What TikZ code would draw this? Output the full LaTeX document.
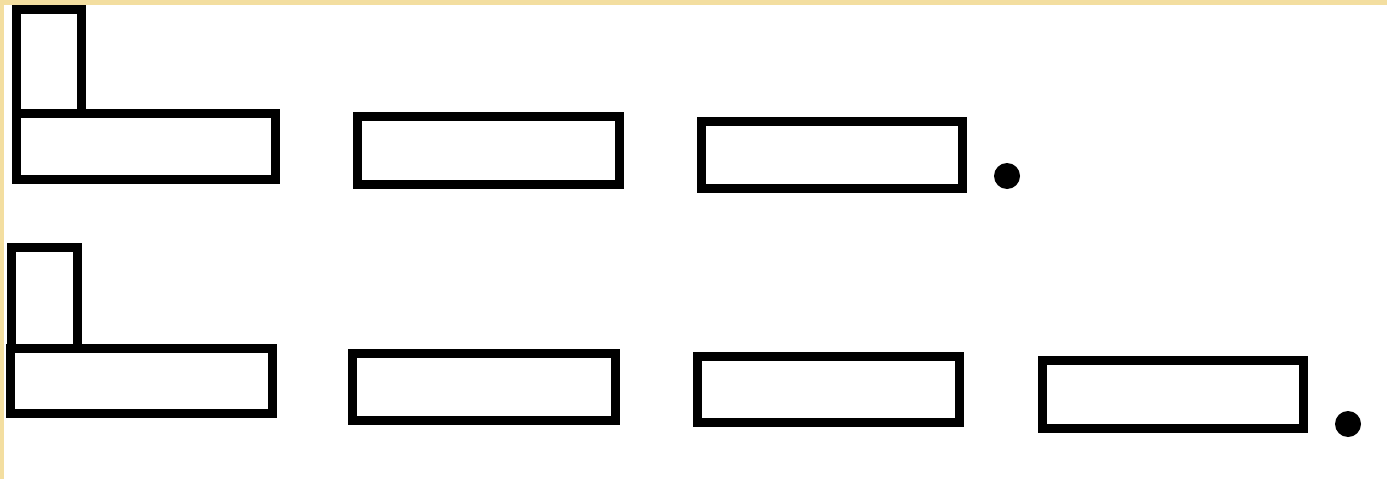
\documentclass[tikz,border=0pt]{standalone}
\definecolor{frame}{RGB}{243,222,160}
\tikzset{
  box/.style={draw=black, line width=9pt, fill=none, inner sep=0pt, outer sep=0pt, rectangle},
  dotmark/.style={circle, fill=black, inner sep=0pt, minimum size=26pt}
}
\begin{document}
\begin{tikzpicture}[x=1pt, y=-1pt]
\useasboundingbox (0,0) rectangle (1387,479);
\fill[white] (-20,-20) rectangle (1410,500);
\fill[frame] (-20,-20) rectangle (1410,5);
\fill[frame] (-20,-20) rectangle (4,500);
% row 1
\node[box, minimum width=65pt, minimum height=104pt] (r1tall) at (49,61) {};
\node[box, minimum width=259pt, minimum height=66pt] (r1base) at (146,146) {};
\node[box, minimum width=262pt, minimum height=68pt] (r1b2) at (488.5,150.5) {};
\node[box, minimum width=261pt, minimum height=67pt] (r1b3) at (832,155) {};
\node[dotmark] (r1dot) at (1007,176) {};
% row 2
\node[box, minimum width=66pt, minimum height=101pt] (r2tall) at (44,298) {};
\node[box, minimum width=262pt, minimum height=65pt] (r2base) at (141,381) {};
\node[box, minimum width=263pt, minimum height=67pt] (r2b2) at (484,387) {};
\node[box, minimum width=262pt, minimum height=66pt] (r2b3) at (828.5,389.5) {};
\node[box, minimum width=261pt, minimum height=68pt] (r2b4) at (1173,394.5) {};
\node[dotmark] (r2dot) at (1348,424) {};
\end{tikzpicture}
\end{document}
